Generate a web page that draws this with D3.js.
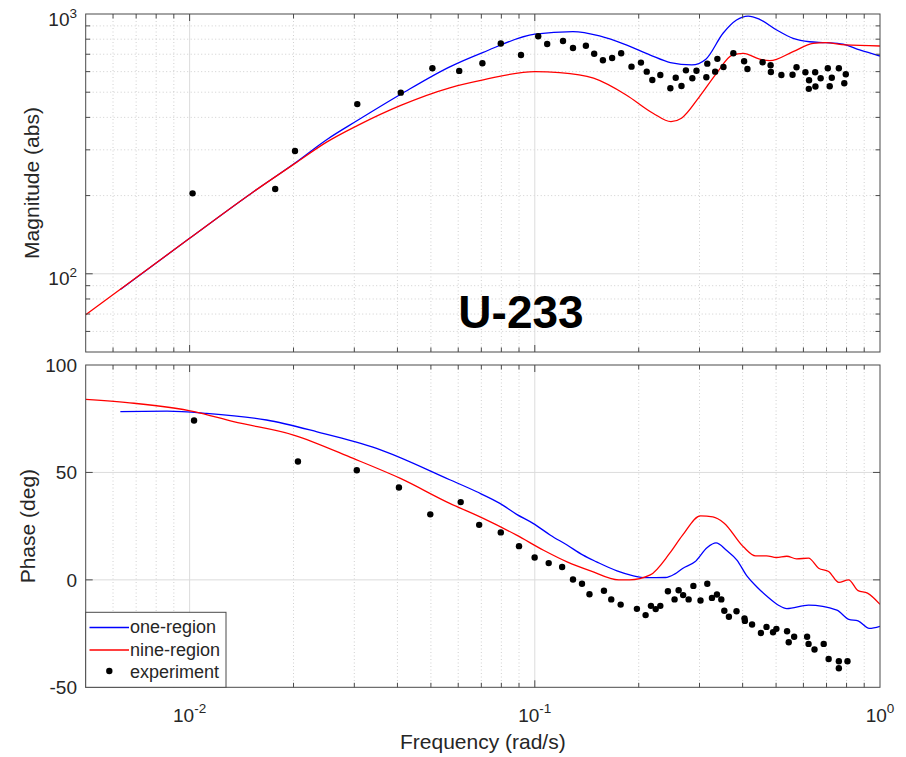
<!DOCTYPE html>
<html><head><meta charset="utf-8">
<script src="https://cdn.jsdelivr.net/npm/d3@7"></script>
<style>
html,body{margin:0;padding:0;background:#fff;}
svg{display:block;font-family:"Liberation Sans",Arial,Helvetica,sans-serif;}
</style></head>
<body><svg id="chart" width="906" height="757"></svg>
<script>
// ---------- DATA ----------
const magOneFreq = [0.0063,0.01,0.015,0.0202,0.025,0.0306,0.0409,0.0567,0.0709,0.1,0.129,0.154,0.184,0.216,0.247,0.285,0.313,0.351,0.384,0.415,0.448,0.502,0.560,0.625,0.696,0.781,0.873,1.0];
const magOne     = [87,137,203,267,329,389,491,626,712,836,855,823,760,695,650,637,670,843,948,982,954,868,806,782,776,765,727,689];

const magNineFreq = [0.005,0.01,0.015,0.0202,0.025,0.0306,0.0409,0.0567,0.0709,0.1,0.118,0.148,0.184,0.220,0.248,0.266,0.300,0.336,0.373,0.402,0.448,0.48,0.560,0.640,0.696,0.793,1.0];
const magNine     = [69.5,137,203,266,322,372,445,520,558,600,595,566,488,415,385,397,481,591,695,706,670,661,716,771,776,760,753];

const expMagFreq = [0.0102,0.0177,0.0202,0.0306,0.0409,0.0505,0.0604,0.0705,0.0797,0.0912,0.1023,0.1086,0.1207,0.129,0.1406,0.1486,0.1575,0.1675,0.1779,0.1906,0.203,0.211,0.219,0.231,0.247,0.256,0.266,0.274,0.286,0.294,0.314,0.316,0.333,0.338,0.352,0.376,0.404,0.413,0.457,0.482,0.483,0.518,0.558,0.573,0.608,0.623,0.622,0.649,0.650,0.673,0.706,0.715,0.725,0.760,0.796,0.788];
const expMag     = [204,212,297,450,498,618,604,646,770,695,821,767,787,740,755,703,664,677,706,627,650,600,557,582,518,568,528,607,566,605,571,644,600,672,625,706,658,614,652,635,598,582,584,624,597,556,515,597,526,566,618,527,568,618,586,541];

const phOneFreq = [0.0063,0.0086,0.0112,0.0167,0.0234,0.0348,0.0567,0.0679,0.0792,0.0886,0.0988,0.111,0.124,0.138,0.151,0.173,0.193,0.210,0.239,0.254,0.268,0.291,0.316,0.335,0.359,0.385,0.412,0.440,0.475,0.508,0.537,0.621,0.750,0.812,0.864,0.931,1.0];
const phOne     = [78.3,78.5,77.5,74.4,68.9,61.2,46.6,41.0,35.6,30.5,26.3,20.8,16.2,11.5,8.4,4.2,1.9,1.0,1.1,2.7,5.3,8.4,15.1,17.2,13.8,9.2,1.7,-3.3,-8.2,-11.8,-13.4,-11.8,-14.1,-18.4,-19.1,-22.6,-21.6];

const phNineFreq = [0.005,0.0069,0.0103,0.0134,0.0200,0.0298,0.0408,0.0567,0.0709,0.0886,0.106,0.124,0.145,0.175,0.188,0.216,0.246,0.268,0.302,0.328,0.353,0.402,0.436,0.469,0.501,0.537,0.573,0.621,0.664,0.710,0.760,0.811,0.864,0.920,1.0];
const phNine     = [84.0,82.2,78.3,73.6,67.4,56.5,47.2,35.6,28.6,20.8,13.8,8.4,4.2,0,0,2.3,12.4,20.8,29.8,29.3,26.5,15.4,11.2,11.2,10.4,11.0,9.8,10.1,5.4,3.9,-1.2,0,-5.0,-6.2,-11.4];

const expPhFreq = [0.0103,0.0206,0.0305,0.0404,0.0498,0.0610,0.0690,0.0797,0.0900,0.0999,0.1097,0.120,0.129,0.137,0.144,0.1586,0.1665,0.1773,0.1976,0.2094,0.217,0.224,0.231,0.243,0.254,0.261,0.269,0.279,0.288,0.302,0.316,0.326,0.337,0.347,0.354,0.365,0.384,0.406,0.405,0.426,0.452,0.469,0.490,0.501,0.538,0.544,0.564,0.615,0.621,0.646,0.687,0.710,0.760,0.760,0.805];
const expPh     = [74.2,55.1,51.0,43.0,30.5,36.2,25.6,22.1,15.7,10.4,7.8,6.0,0.2,-1.8,-6.7,-5.1,-9.1,-11.5,-13.5,-16.4,-12.1,-13.6,-12.1,-5.3,-9.1,-4.8,-7.1,-9.1,-2.8,-9.6,-1.8,-8.4,-6.8,-9.1,-14.4,-17.2,-14.6,-19.1,-17.9,-20.8,-24.7,-21.9,-24.4,-22.8,-23.9,-29.0,-26.5,-26.5,-29.8,-32.4,-29.8,-36.8,-37.9,-41.1,-37.9];

const xTickExps = [-2,-1,0];
const magTickExps = [2,3];
const phaseTicks = [-50,0,50,100];
const legendLabels = ["one-region","nine-region","experiment"];
const titleText = "U-233";
const xLabel = "Frequency (rad/s)";
const magLabel = "Magnitude (abs)";
const phLabel = "Phase (deg)";

// ---------- LAYOUT ----------
const L = 85.7, R = 880;
const top1 = 14, bot1 = 352;
const top2 = 365, bot2 = 687.3;
const BLUE = "#0000ff", RED = "#ff0000";
const AX = "#4a4a4a", TXT = "#262626";

const svg = d3.select("#chart");
const x = d3.scaleLog().domain([0.005, 1]).range([L, R]);
const yM = d3.scaleLog().domain([50, 1000]).range([bot1, top1]);
const yP = d3.scaleLinear().domain([-50, 100]).range([bot2, top2]);

const xMinor = [];
for (let d = -3; d <= 0; d++) for (let k = 1; k <= 9; k++) {
  const v = +(k * Math.pow(10, d)).toPrecision(6);
  if (v >= 0.005 && v <= 1) xMinor.push(v);
}
const xMajor = xTickExps.map(e => Math.pow(10, e));
const yMinorM = [];
for (let d = 1; d <= 3; d++) for (let k = 1; k <= 9; k++) {
  const v = k * Math.pow(10, d);
  if (v >= 50 && v <= 1000) yMinorM.push(v);
}
const yMajorM = magTickExps.map(e => Math.pow(10, e));

function isMajorX(v){ return xMajor.some(m => Math.abs(m - v) / m < 1e-6); }
function isMajorYM(v){ return yMajorM.some(m => Math.abs(m - v) / m < 1e-6); }

function panel(g, yScale, yTop, yBot, yMajors, yMinors) {
  g.append("g").selectAll("line").data(xMinor.filter(v => !isMajorX(v) && x(v) > L + 0.5 && x(v) < R - 0.5)).join("line")
    .attr("x1", d => x(d)).attr("x2", d => x(d)).attr("y1", yTop).attr("y2", yBot)
    .attr("stroke", "#c4c4c4").attr("stroke-width", 0.8).attr("stroke-dasharray", "1,2.5");
  if (yMinors) {
    g.append("g").selectAll("line").data(yMinors.filter(v => !isMajorYM(v) && yScale(v) > yTop + 0.5 && yScale(v) < yBot - 0.5)).join("line")
      .attr("x1", L).attr("x2", R).attr("y1", d => yScale(d)).attr("y2", d => yScale(d))
      .attr("stroke", "#c4c4c4").attr("stroke-width", 0.8).attr("stroke-dasharray", "1,2.5");
  }
  g.append("g").selectAll("line").data(xMajor.filter(v => x(v) > L + 0.5 && x(v) < R - 0.5)).join("line")
    .attr("x1", d => x(d)).attr("x2", d => x(d)).attr("y1", yTop).attr("y2", yBot)
    .attr("stroke", "#dcdcdc").attr("stroke-width", 1);
  g.append("g").selectAll("line").data(yMajors.filter(v => yScale(v) > yTop + 0.5 && yScale(v) < yBot - 0.5)).join("line")
    .attr("x1", L).attr("x2", R).attr("y1", d => yScale(d)).attr("y2", d => yScale(d))
    .attr("stroke", "#dcdcdc").attr("stroke-width", 1);
}

function frame(g, yScale, yTop, yBot, yMajors, yMinors) {
  const ticks = g.append("g").attr("stroke", AX).attr("stroke-width", 1);
  xMinor.forEach(v => {
    const len = isMajorX(v) ? 7 : 4.5;
    const px = x(v);
    if (px <= L + 0.5 || px >= R - 0.5) return;
    ticks.append("line").attr("x1", px).attr("x2", px).attr("y1", yBot).attr("y2", yBot - len);
    ticks.append("line").attr("x1", px).attr("x2", px).attr("y1", yTop).attr("y2", yTop + len);
  });
  yMajors.forEach(v => {
    const py = yScale(v);
    if (py <= yTop + 0.5 || py >= yBot - 0.5) return;
    ticks.append("line").attr("x1", L).attr("x2", L + 7).attr("y1", py).attr("y2", py);
    ticks.append("line").attr("x1", R).attr("x2", R - 7).attr("y1", py).attr("y2", py);
  });
  if (yMinors) yMinors.forEach(v => {
    if (isMajorYM(v)) return;
    const py = yScale(v);
    if (py <= yTop + 0.5 || py >= yBot - 0.5) return;
    ticks.append("line").attr("x1", L).attr("x2", L + 4.5).attr("y1", py).attr("y2", py);
    ticks.append("line").attr("x1", R).attr("x2", R - 4.5).attr("y1", py).attr("y2", py);
  });
  g.append("rect").attr("x", L).attr("y", yTop).attr("width", R - L).attr("height", yBot - yTop)
    .attr("fill", "none").attr("stroke", AX).attr("stroke-width", 1);
}

const lineGen = (ys) => d3.line().x(d => x(d[0])).y(d => ys(d[1])).curve(d3.curveMonotoneX);
const zip = (a, b) => a.map((v, i) => [v, b[i]]);

// ---------- TOP PANEL ----------
const g1 = svg.append("g");
panel(g1, yM, top1, bot1, yMajorM, yMinorM);
svg.append("clipPath").attr("id", "c1").append("rect").attr("x", L).attr("y", top1).attr("width", R - L).attr("height", bot1 - top1);
const d1 = g1.append("g").attr("clip-path", "url(#c1)");
d1.append("path").datum(zip(magOneFreq, magOne)).attr("d", lineGen(yM)).attr("fill", "none").attr("stroke", BLUE).attr("stroke-width", 1.3);
d1.append("path").datum(zip(magNineFreq, magNine)).attr("d", lineGen(yM)).attr("fill", "none").attr("stroke", RED).attr("stroke-width", 1.3);
d1.append("g").selectAll("circle").data(zip(expMagFreq, expMag)).join("circle")
  .attr("cx", d => x(d[0])).attr("cy", d => yM(d[1])).attr("r", 3.2).attr("fill", "#000");
frame(g1, yM, top1, bot1, yMajorM, yMinorM);

g1.append("text").attr("x", 521).attr("y", 328).attr("text-anchor", "middle")
  .attr("font-size", 46).attr("font-weight", "bold").attr("fill", "#000").text(titleText);

magTickExps.forEach(e => {
  const py = yM(Math.pow(10, e));
  const t = g1.append("text").attr("x", 77).attr("y", py + 11.5).attr("text-anchor", "end")
    .attr("font-size", 19).attr("fill", TXT);
  t.append("tspan").text("10");
  t.append("tspan").attr("dy", -8).attr("font-size", 13.5).text(String(e));
});
g1.append("text").attr("transform", `translate(39,${(top1 + bot1) / 2}) rotate(-90)`)
  .attr("text-anchor", "middle").attr("font-size", 21).attr("fill", TXT).text(magLabel);

// ---------- BOTTOM PANEL ----------
const g2 = svg.append("g");
panel(g2, yP, top2, bot2, phaseTicks, null);
svg.append("clipPath").attr("id", "c2").append("rect").attr("x", L).attr("y", top2).attr("width", R - L).attr("height", bot2 - top2);
const d2 = g2.append("g").attr("clip-path", "url(#c2)");
d2.append("path").datum(zip(phOneFreq, phOne)).attr("d", lineGen(yP)).attr("fill", "none").attr("stroke", BLUE).attr("stroke-width", 1.3);
d2.append("path").datum(zip(phNineFreq, phNine)).attr("d", lineGen(yP)).attr("fill", "none").attr("stroke", RED).attr("stroke-width", 1.3);
d2.append("g").selectAll("circle").data(zip(expPhFreq, expPh)).join("circle")
  .attr("cx", d => x(d[0])).attr("cy", d => yP(d[1])).attr("r", 3.2).attr("fill", "#000");
frame(g2, yP, top2, bot2, phaseTicks, null);

phaseTicks.forEach(v => {
  g2.append("text").attr("x", 77).attr("y", yP(v) + 7).attr("text-anchor", "end")
    .attr("font-size", 19).attr("fill", TXT).text(String(v));
});
g2.append("text").attr("transform", `translate(34.5,${(top2 + bot2) / 2}) rotate(-90)`)
  .attr("text-anchor", "middle").attr("font-size", 21).attr("fill", TXT).text(phLabel);

xTickExps.forEach(e => {
  const px = x(Math.pow(10, e));
  const t = g2.append("text").attr("x", px).attr("y", 721.5).attr("text-anchor", "middle")
    .attr("font-size", 19).attr("fill", TXT);
  t.append("tspan").text("10");
  t.append("tspan").attr("dy", -9).attr("font-size", 13.5).text(String(e));
});
g2.append("text").attr("x", (L + R) / 2).attr("y", 749).attr("text-anchor", "middle")
  .attr("font-size", 21).attr("fill", TXT).text(xLabel);

// legend
const lg = svg.append("g");
const lx = L, ly = 612.3, lw = 140.3, lh = bot2 - ly;
lg.append("rect").attr("x", lx).attr("y", ly).attr("width", lw).attr("height", lh)
  .attr("fill", "#fff").attr("stroke", AX).attr("stroke-width", 1);
const rowsY = [627.5, 650, 672.5];
const colors = [BLUE, RED, "#000"];
legendLabels.forEach((lab, i) => {
  if (i < 2) {
    lg.append("line").attr("x1", 89.5).attr("x2", 129).attr("y1", rowsY[i]).attr("y2", rowsY[i])
      .attr("stroke", colors[i]).attr("stroke-width", 1.3);
  } else {
    lg.append("circle").attr("cx", 109.3).attr("cy", rowsY[i] - 1.5).attr("r", 3.2).attr("fill", "#000");
  }
  lg.append("text").attr("x", 130).attr("y", rowsY[i] + 5.5).attr("font-size", 18).attr("fill", TXT).text(lab);
});
</script>
</body></html>
